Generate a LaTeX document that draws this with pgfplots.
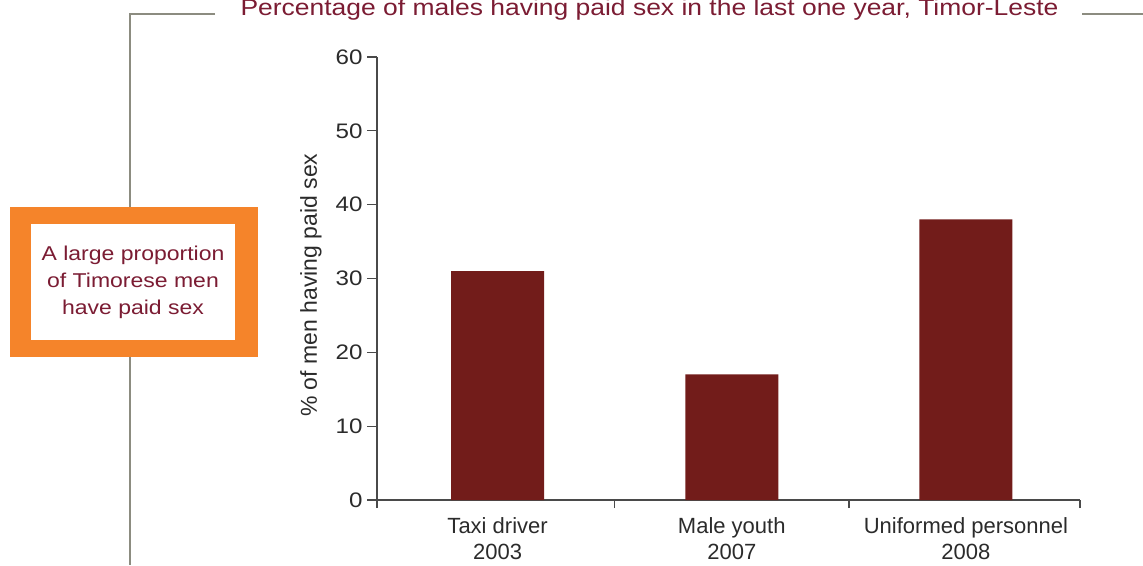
\documentclass[border=0pt]{standalone}
\usepackage{pgfplots}
\pgfplotsset{compat=1.18}
\usepackage{fontspec}
\setmainfont{Liberation Sans}
\newfontfamily\stretchfont{Liberation Sans}[FakeStretch=1.15]
\definecolor{barred}{HTML}{721C1A}
\definecolor{titlered}{HTML}{7B1C33}
\definecolor{boxorange}{HTML}{F5842A}
\definecolor{linegray}{HTML}{8C8C80}
\definecolor{axisgray}{HTML}{4A4A4A}
\definecolor{textgray}{HTML}{2B2B2B}
\begin{document}
\begin{tikzpicture}[x=1pt,y=1pt]
\path[use as bounding box] (0,0) rectangle (1143,565);
\draw[linegray, line width=2.5pt] (215,551) -- (130,551) -- (130,0);
\draw[linegray, line width=2.5pt] (1082,551) -- (1143,551);
\fill[boxorange] (10,208) rectangle (258,358);
\fill[white] (31,225) rectangle (235,341);
\node[titlered, align=center, font=\stretchfont\fontsize{20}{27}\selectfont] at (133,283) {A large proportion\\of Timorese men\\have paid sex};
\node[titlered, anchor=base, font=\stretchfont\fontsize{23}{27}\selectfont] at (649.5,549) {Percentage of males having paid sex in the last one year, Timor-Leste};
\begin{axis}[
  at={(377pt,65pt)}, anchor=south west,
  scale only axis, width=703pt, height=443pt,
  xmin=-0.515, xmax=2.487, ymin=0, ymax=60,
  axis x line*=bottom, axis y line*=left,
  axis line style={axisgray, line width=1.3pt},
  ytick={0,10,...,60},
  xtick={0,1,2},
  xticklabels={{Taxi driver\\2003},{Male youth\\2007},{Uniformed personnel\\2008}},
  xticklabel style={align=center, font=\fontsize{22}{26}\selectfont, text=textgray, yshift=-4pt},
  yticklabel style={font=\stretchfont\fontsize{21}{25}\selectfont, text=textgray, xshift=-1pt},
  /pgf/number format/assume math mode=true,
  major x tick style={draw=none},
  minor xtick={-0.515,0.5,1.5,2.487},
  minor tick length=8pt,
  major tick length=10pt,
  tick align=outside,
  tick style={axisgray, line width=1.3pt},
  ylabel={\% of men having paid sex},
  ylabel style={font=\fontsize{23}{27}\selectfont, text=textgray, at={(axis description cs:-0.094,0.485)}, anchor=center},
  ybar, bar width=93pt,
  clip=false,
]
\addplot[fill=barred, draw=none] coordinates {(0,31) (1,17) (2,38)};
\end{axis}
\end{tikzpicture}
\end{document}
